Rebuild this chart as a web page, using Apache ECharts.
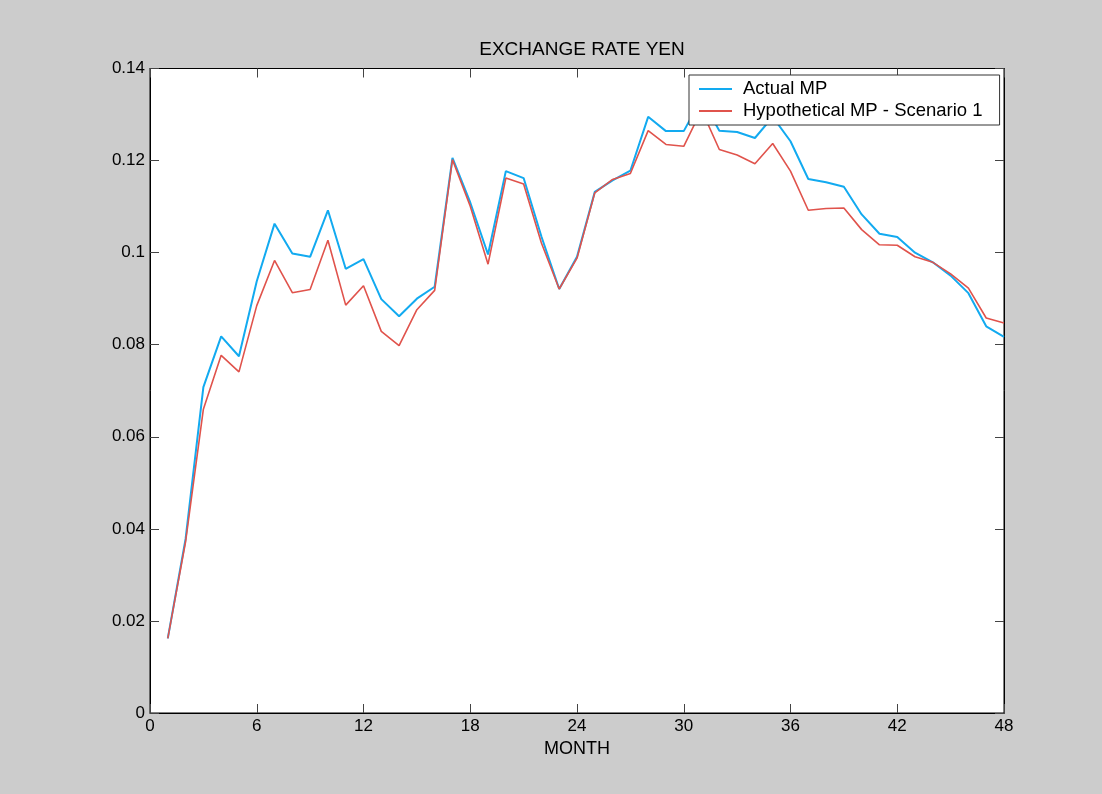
<!DOCTYPE html>
<html>
<head>
<meta charset="utf-8">
<script src="https://cdn.jsdelivr.net/npm/echarts@6/dist/echarts.min.js"></script>
<style>
html,body{margin:0;padding:0;background:#cccccc;}
#chart{width:1102px;height:794px;}
</style>
</head>
<body>
<div id="chart"></div>
<script>
var months = [1,2,3,4,5,6,7,8,9,10,11,12,13,14,15,16,17,18,19,20,21,22,23,24,25,26,27,28,29,30,31,32,33,34,35,36,37,38,39,40,41,42,43,44,45,46,47,48];
var actualMP = [0.0162,0.0378,0.0708,0.0818,0.0775,0.0938,0.1063,0.0998,0.0991,0.1092,
  0.0965,0.0986,0.0899,0.0862,0.0900,0.0926,0.1206,0.1109,0.0996,0.1177,
  0.1162,0.1035,0.0921,0.0991,0.1132,0.1157,0.1178,0.1295,0.1264,0.1264,
  0.1335,0.1265,0.1262,0.1249,0.1295,0.1242,0.1160,0.1153,0.1143,0.1083,
  0.1041,0.1034,0.1000,0.0979,0.0950,0.0912,0.0840,0.0817];
var hypoMP = [0.0162,0.0372,0.0660,0.0777,0.0741,0.0885,0.0983,0.0913,0.0920,0.1027,
  0.0886,0.0928,0.0829,0.0798,0.0876,0.0918,0.1202,0.1101,0.0975,0.1162,
  0.1149,0.1021,0.0921,0.0988,0.1130,0.1159,0.1172,0.1265,0.1235,0.1231,
  0.1310,0.1224,0.1212,0.1193,0.1237,0.1177,0.1092,0.1096,0.1097,0.1050,
  0.1017,0.1016,0.0991,0.0979,0.0954,0.0923,0.0858,0.0847];
var seriesNames = ['Actual MP', 'Hypothetical MP - Scenario 1'];
var xTicks = [0,6,12,18,24,30,36,42,48];
var yTicks = [0,0.02,0.04,0.06,0.08,0.1,0.12,0.14];

function pairs(vals){ return months.map(function(m,i){ return [m, vals[i]]; }); }

var FONT = "'Liberation Sans', Arial, sans-serif";
var chart = echarts.init(document.getElementById('chart'), null, {renderer:'canvas'});
function axisBase(){
  return {
    axisLine:{show:true, onZero:false, lineStyle:{color:'#000', width:1}},
    axisTick:{show:true, inside:true, length:9, lineStyle:{color:'#444', width:1}},
    splitLine:{show:false}
  };
}
chart.setOption({
  backgroundColor:'#cccccc',
  animation:false,
  title:{
    text:'EXCHANGE RATE YEN',
    left:577, top:35, textAlign:'center',
    textStyle:{fontFamily:FONT, fontSize:19, fontWeight:'normal', color:'#000'}
  },
  legend:{
    data:seriesNames,
    orient:'vertical',
    left:689, top:75,
    padding:[4,17,4,10],
    itemGap:2,
    icon:'rect',
    itemWidth:33, itemHeight:2,
    backgroundColor:'#ffffff',
    borderColor:'#333', borderWidth:1, borderRadius:0,
    textStyle:{fontFamily:FONT, fontSize:18.5, lineHeight:20, color:'#000', padding:[0,0,0,6]}
  },
  grid:{left:150, right:98, top:68.5, bottom:81, show:true, backgroundColor:'#ffffff', borderColor:'#000', borderWidth:1},
  xAxis:[
    Object.assign(axisBase(), {
      type:'value', min:xTicks[0], max:xTicks[xTicks.length-1], interval:6, position:'bottom',
      name:'MONTH', nameLocation:'middle', nameGap:23,
      nameTextStyle:{fontFamily:FONT, fontSize:18, color:'#000'},
      axisLabel:{fontFamily:FONT, fontSize:17, color:'#000', margin:5}
    }),
    Object.assign(axisBase(), {
      type:'value', min:xTicks[0], max:xTicks[xTicks.length-1], interval:6, position:'top',
      axisLabel:{show:false}
    })
  ],
  yAxis:[
    Object.assign(axisBase(), {
      type:'value', min:yTicks[0], max:yTicks[yTicks.length-1], interval:0.02, position:'left',
      axisLabel:{fontFamily:FONT, fontSize:17, color:'#000', margin:5,
        formatter:function(v){ return String(+v.toFixed(2)); }}
    }),
    Object.assign(axisBase(), {
      type:'value', min:yTicks[0], max:yTicks[yTicks.length-1], interval:0.02, position:'right',
      axisLabel:{show:false}
    })
  ],
  series:[
    {name:seriesNames[0], type:'line', data:pairs(actualMP), symbol:'none',
     lineStyle:{color:'#12aaf0', width:2}, itemStyle:{color:'#12aaf0'}},
    {name:seriesNames[1], type:'line', data:pairs(hypoMP), symbol:'none',
     lineStyle:{color:'#e0534c', width:1.6}, itemStyle:{color:'#e0534c'}}
  ]
});
</script>
</body>
</html>
